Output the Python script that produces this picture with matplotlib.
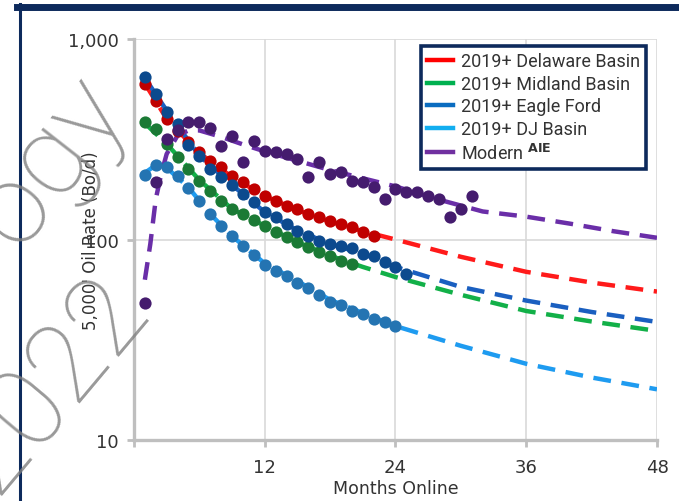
import matplotlib
matplotlib.use("Agg")
import matplotlib.pyplot as plt
from matplotlib.lines import Line2D
from matplotlib.ticker import FixedLocator, NullLocator

# --- data (Bo/d at 5,000' lateral) ---
delaware_months = list(range(1, 23))
delaware_rates = [597, 491, 399, 347, 306, 273, 246, 230, 208, 194, 179,
                  165, 156, 147, 142, 134, 129, 124, 119, 115, 109, 104]

midland_months = list(range(1, 21))
midland_rates = [385, 356, 299, 258, 225, 196, 175, 156, 142, 134,
                 125, 117, 109, 103, 97, 92, 87, 83, 78, 75.5]

eagle_months = list(range(1, 26))
eagle_rates = [646, 532, 432, 377, 296, 261, 225, 205, 187, 169, 154,
               137, 129, 119, 110, 104, 98, 95, 93, 91, 85, 83, 77, 73, 67]

dj_months = list(range(1, 25))
dj_rates = [210, 236, 230, 208, 181, 156, 134, 117, 104, 93, 84, 75,
            70, 66, 61, 57, 53, 49, 47, 44, 42.5, 40, 38.8, 37]

aie_months = list(range(1, 32))
aie_rates = [48, 194, 317, 351, 385, 385, 360, 293, 328, 244, 310, 276,
             273, 267, 252, 205, 244, 212, 217, 196, 194, 183, 159, 179,
             173, 173, 165, 159, 129, 142, 165]

# type curves / forecasts (dashed)
delaware_fit_m = [1, 3, 6, 9, 12, 15, 18, 21, 24, 30, 36, 42, 48]
delaware_fit_r = [600, 400, 270, 205, 165, 140, 123, 110, 100, 82, 69, 61, 55]

midland_fit_m = [1, 3, 6, 9, 12, 15, 18, 21, 24, 30, 36, 42, 48]
midland_fit_r = [380, 300, 198, 142, 117, 97, 83, 73, 65, 53, 44, 39, 35]

eagle_fit_m = [1, 3, 6, 9, 12, 15, 18, 21, 24, 30, 36, 42, 48]
eagle_fit_r = [640, 440, 262, 187, 137, 111, 95, 85, 73, 58, 49.6, 43.5, 38.8]

dj_fit_m = [1, 2, 3, 5, 7, 9, 12, 15, 18, 21, 24, 30, 36, 42, 48]
dj_fit_r = [215, 235, 228, 182, 134, 104, 76, 62, 50, 43, 37, 29.5, 24, 20.5, 17.9]

aie_fit_m = [1, 1.5, 2, 2.5, 3, 4, 5, 6, 8, 10, 12, 15, 18, 21, 24, 28, 32, 36, 40, 44, 48]
aie_fit_r = [63, 95, 159, 212, 267, 330, 350, 350, 325, 298, 275, 247, 222,
             202, 184, 158, 138, 130, 120, 110, 102]

labels = ["2019+ Delaware Basin", "2019+ Midland Basin", "2019+ Eagle Ford",
          "2019+ DJ Basin", "Modern $^{\\mathbf{AIE}}$"]

x_ticks = [0, 12, 24, 36, 48]
x_tick_labels = ["", "12", "24", "36", "48"]
y_ticks = [10, 100, 1000]
y_tick_labels = ["10", "100", "1,000"]

navy = "#0d2a5c"
grey = "#bfbfbf"

series = [
    # months, rates, fit months, fit rates, dot colour, dash colour, legend colour
    (dj_months, dj_rates, dj_fit_m, dj_fit_r, "#2474b2", "#1e9bf0", "#12aef0"),
    (midland_months, midland_rates, midland_fit_m, midland_fit_r, "#1b7a35", "#12b048", "#00b050"),
    (delaware_months, delaware_rates, delaware_fit_m, delaware_fit_r, "#c00000", "#ff1a1a", "#ff0000"),
    (eagle_months, eagle_rates, eagle_fit_m, eagle_fit_r, "#0c4a8e", "#1a5fc0", "#0a6cc0"),
    (aie_months, aie_rates, aie_fit_m, aie_fit_r, "#451c6e", "#6a2ea8", "#7030a0"),
]

fig = plt.figure(figsize=(6.79, 5.02), dpi=100)
ax = fig.add_axes([0.1973, 0.1215, 0.7703, 0.7988])

for months, rates, fm, fr, dot_c, dash_c, _ in series:
    ax.plot(fm, fr, color=dash_c, lw=3.2, dashes=(4, 2.4), zorder=2,
            solid_capstyle="butt", dash_capstyle="butt")
for months, rates, fm, fr, dot_c, dash_c, _ in series:
    ax.plot(months, rates, "o", color=dot_c, ms=8.8, mew=0, zorder=3)

ax.set_yscale("log")
ax.set_xlim(0, 48)
ax.set_ylim(10, 1000)
ax.xaxis.set_major_locator(FixedLocator(x_ticks))
ax.set_xticklabels(x_tick_labels)
ax.yaxis.set_major_locator(FixedLocator(y_ticks))
ax.yaxis.set_minor_locator(NullLocator())
ax.set_yticklabels(y_tick_labels)

ax.grid(True, color="#d9d9d9", lw=1.2, zorder=0)
ax.set_axisbelow(True)
for side in ["top", "right"]:
    ax.spines[side].set_visible(False)
for side in ["left", "bottom"]:
    ax.spines[side].set_color(grey)
    ax.spines[side].set_linewidth(2.4)
ax.tick_params(axis="both", colors=grey, length=5, width=2, labelsize=13,
               labelcolor="#333333")
ax.tick_params(axis="x", pad=8)
ax.tick_params(axis="y", pad=6)

ax.set_xlabel("Months Online", fontsize=12.5, color="#333333")
ax.xaxis.set_label_coords(0.5, -0.098)
ax.set_ylabel("5,000' Oil Rate (Bo/d)", fontsize=12, color="#333333")
ax.yaxis.set_label_coords(-0.065, 0.5)

handles = [Line2D([0], [0], color=s[6], lw=3.2) for s in series]
order = [2, 1, 3, 0, 4]
leg = ax.legend([handles[i] for i in order], labels, loc="upper left",
                bbox_to_anchor=(0.549, 0.9825), fancybox=False, framealpha=1,
                prop={"family": "Roboto", "size": 13}, handlelength=1.4,
                handletextpad=0.45, labelspacing=0.25, borderpad=0.35,
                borderaxespad=0)
leg.get_frame().set_edgecolor(navy)
leg.get_frame().set_linewidth(2.6)
for t in leg.get_texts():
    t.set_color("#333333")
leg.set_zorder(5)

# frame of the slide
fig.add_artist(Line2D([17 / 679, 1], [1 - 8 / 502, 1 - 8 / 502],
                      transform=fig.transFigure, color=navy, lw=5))
fig.add_artist(Line2D([19.5 / 679, 19.5 / 679], [0, 1 - 5 / 502],
                      transform=fig.transFigure, color=navy, lw=2.2))

# watermark
fig.text(50 / 679, 1 - 162 / 502, "ogy", fontsize=82, family="Roboto",
         weight="light", color="#808080", alpha=0.8, rotation=52,
         rotation_mode="anchor", ha="center", va="center", zorder=10)
fig.text(50 / 679, 1 - 385 / 502, "2022", fontsize=80, family="Roboto",
         weight="light", color="#808080", alpha=0.8, rotation=50,
         rotation_mode="anchor", ha="center", va="center", zorder=10)

fig.savefig("out.png", dpi=100)
